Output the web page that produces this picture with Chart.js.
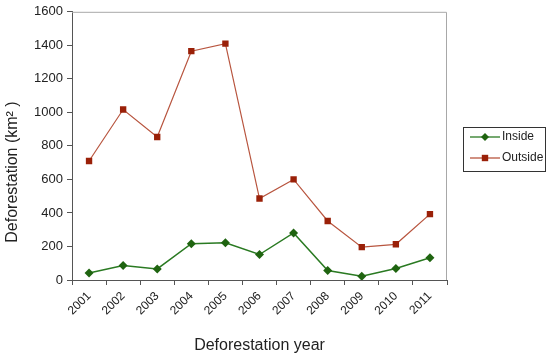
<!DOCTYPE html>
<html>
<head>
<meta charset="utf-8">
<script src="https://cdn.jsdelivr.net/npm/chart.js@4/dist/chart.umd.min.js"></script>
<style>
  html, body { margin: 0; padding: 0; background: #fff; }
  #wrap { width: 550px; height: 355px; position: relative; }
</style>
</head>
<body>
<div id="wrap"><canvas id="chart"></canvas></div>
<script>
// --- Data ---
const years = ['2001', '2002', '2003', '2004', '2005', '2006', '2007', '2008', '2009', '2010', '2011'];
const insideVals = [42, 86, 66, 217, 222, 152, 281, 57, 22, 69, 133];
const outsideVals = [710, 1017, 853, 1365, 1410, 486, 600, 352, 196, 213, 393];
const yTicks = [0, 200, 400, 600, 800, 1000, 1200, 1400, 1600];

const FONT = "'Liberation Sans', Arial, sans-serif";

// --- Helpers ---
function drawMarker(ctx, style, x, y, r, color) {
  ctx.fillStyle = color;
  ctx.beginPath();
  if (style === 'rectRot') {
    ctx.moveTo(x, y - r); ctx.lineTo(x + r, y); ctx.lineTo(x, y + r); ctx.lineTo(x - r, y);
  } else {
    ctx.rect(x - r * 0.8, y - r * 0.8, r * 1.6, r * 1.6);
  }
  ctx.closePath();
  ctx.fill();
}

// frame, y title and boxed legend
const extras = {
  id: 'extras',
  afterDraw(chart) {
    const { ctx, chartArea: a } = chart;
    ctx.save();
    // light top/right frame
    ctx.strokeStyle = '#a8a8a8';
    ctx.lineWidth = 1;
    ctx.beginPath();
    ctx.moveTo(a.left, a.top + 0.5);
    ctx.lineTo(a.right - 0.5, a.top + 0.5);
    ctx.lineTo(a.right - 0.5, a.bottom);
    ctx.stroke();

    // y title
    ctx.save();
    ctx.translate(13, 172);
    ctx.rotate(-Math.PI / 2);
    ctx.fillStyle = '#222';
    ctx.font = '16px ' + FONT;
    ctx.textAlign = 'center';
    ctx.textBaseline = 'middle';
    ctx.fillText('Deforestation (km\u00B2 )', 0, 0);
    ctx.restore();

    // legend
    const lx = 463, ly = 127, lw = 82, lh = 44;
    ctx.strokeStyle = '#333';
    ctx.strokeRect(lx + 0.5, ly + 0.5, lw, lh);
    ctx.font = '12px ' + FONT;
    ctx.textBaseline = 'middle';
    ctx.textAlign = 'left';
    chart.data.datasets.forEach((ds, i) => {
      const y = ly + 10 + i * 21;
      ctx.strokeStyle = ds.borderColor;
      ctx.lineWidth = 1.3;
      ctx.beginPath();
      ctx.moveTo(470, y);
      ctx.lineTo(500, y);
      ctx.stroke();
      drawMarker(ctx, ds.pointStyle, 485, y, 4, ds.pointBackgroundColor);
      ctx.fillStyle = '#222';
      ctx.fillText(ds.label, 502, y);
    });
    ctx.restore();
  }
};

new Chart(document.getElementById('chart'), {
  type: 'line',
  data: {
    labels: years,
    datasets: [
      {
        label: 'Inside',
        data: insideVals,
        borderColor: '#2a7a22',
        borderWidth: 1.5,
        pointStyle: 'rectRot',
        pointRadius: 4.5,
        pointBackgroundColor: '#1f6410',
        pointBorderWidth: 0,
        tension: 0
      },
      {
        label: 'Outside',
        data: outsideVals,
        borderColor: '#b8553f',
        borderWidth: 1.2,
        pointStyle: 'rect',
        pointRadius: 4.5,
        pointBackgroundColor: '#9a2008',
        pointBorderWidth: 0,
        tension: 0
      }
    ]
  },
  options: {
    responsive: true,
    maintainAspectRatio: false,
    animation: false,
    layout: { padding: { left: 0, top: 10, right: 103, bottom: 0 } },
    plugins: { legend: { display: false }, tooltip: { enabled: false } },
    scales: {
      x: {
        offset: true,
        grid: { display: true, drawOnChartArea: false, offset: true, tickLength: 5, color: '#555' },
        border: { color: '#555', width: 1 },
        ticks: {
          color: '#222', font: { family: FONT, size: 12 },
          minRotation: 45, maxRotation: 45, padding: 4
        },
        title: {
          display: true, text: 'Deforestation year', color: '#222',
          font: { family: FONT, size: 16 }, padding: { top: 0, bottom: 0 }
        },
        afterFit(scale) { scale.height = 75; }
      },
      y: {
        min: 0, max: 1600,
        afterBuildTicks(scale) { scale.ticks = yTicks.map(v => ({ value: v })); },
        grid: { display: true, drawOnChartArea: false, tickLength: 5, color: '#555' },
        border: { color: '#555', width: 1 },
        ticks: {
          color: '#222', font: { family: FONT, size: 13 }, padding: 4,
          callback: v => String(v)
        },
        afterFit(scale) { scale.width = 72; }
      }
    }
  },
  plugins: [extras]
});
</script>
</body>
</html>
